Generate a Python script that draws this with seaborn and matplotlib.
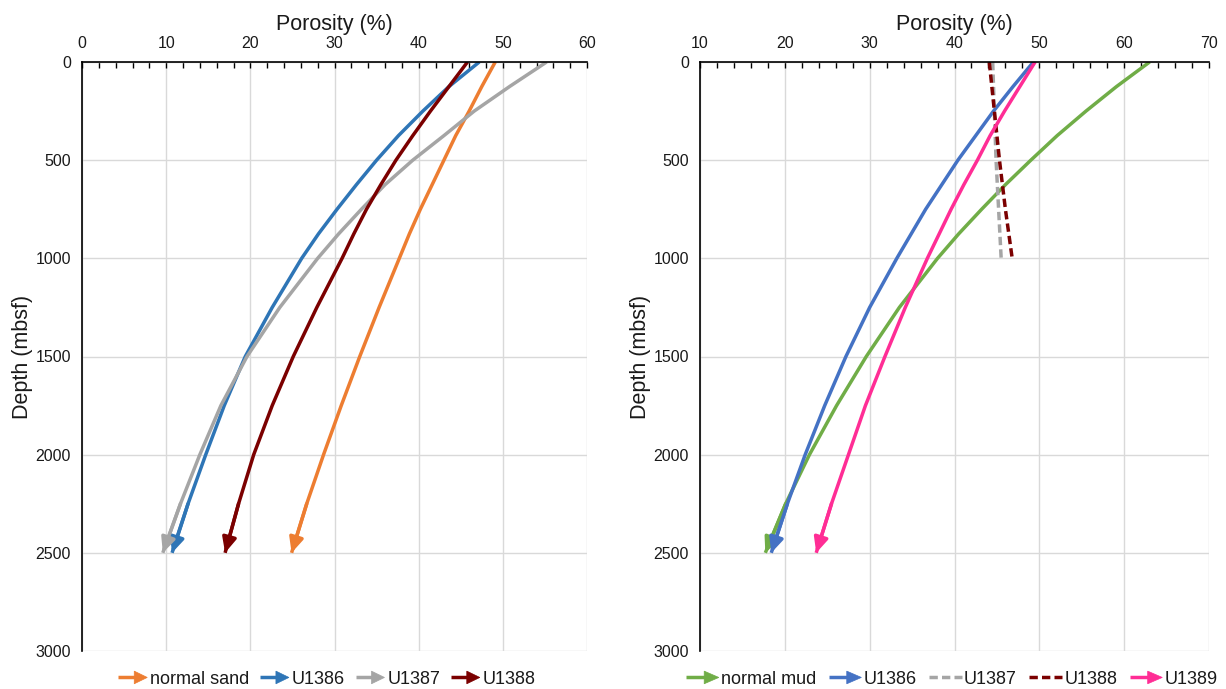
import matplotlib
matplotlib.use("Agg")
import matplotlib.pyplot as plt
import seaborn as sns
from matplotlib.lines import Line2D
from matplotlib.patches import Polygon
from matplotlib.legend_handler import HandlerBase
from matplotlib.ticker import MultipleLocator

depth = [0, 125, 250, 375, 500, 625, 750, 875, 1000, 1250, 1500, 1750, 2000, 2250, 2500]
depth_short = [0, 250, 500, 750, 1000]

# left panel - sand porosity (%)
sand_normal = [49.1, 47.5, 46.0, 44.4, 43.0, 41.6, 40.2, 38.9, 37.7, 35.3, 33.0, 30.8, 28.7, 26.7, 24.9]
sand_u1386 = [47.2, 43.6, 40.5, 37.6, 35.0, 32.6, 30.3, 28.1, 26.1, 22.6, 19.4, 16.9, 14.7, 12.6, 10.7]
sand_u1387 = [55.2, 50.8, 46.6, 43.0, 39.3, 36.0, 33.2, 30.5, 28.0, 23.5, 19.6, 16.5, 14.0, 11.7, 9.6]
sand_u1388 = [45.8, 43.6, 41.4, 39.3, 37.3, 35.5, 33.8, 32.3, 30.9, 27.9, 25.1, 22.6, 20.4, 18.6, 17.0]

# right panel - mud porosity (%)
mud_normal = [63.0, 59.1, 55.5, 52.1, 49.0, 46.0, 43.2, 40.5, 38.0, 33.5, 29.6, 26.1, 22.9, 20.1, 17.7]
mud_u1386 = [49.3, 46.9, 44.6, 42.5, 40.4, 38.5, 36.6, 34.9, 33.2, 30.0, 27.2, 24.7, 22.4, 20.3, 18.4]
mud_u1387 = [44.5, 44.7, 44.9, 45.2, 45.5]
mud_u1388 = [44.1, 44.7, 45.3, 46.0, 46.8]
mud_u1389 = [49.5, 47.7, 45.9, 44.2, 42.7, 41.1, 39.6, 38.2, 36.8, 34.2, 31.8, 29.5, 27.5, 25.5, 23.7]

sand_labels = ["normal sand", "U1386", "U1387", "U1388"]
mud_labels = ["normal mud", "U1386", "U1387", "U1388", "U1389"]

LW = 2.5
DASH = (0, (2.4, 1.2))
TXT = "#1a1a1a"


class ArrowHandler(HandlerBase):
    # legend key: line with a triangle head, or plain dashed line
    def create_artists(self, legend, orig, xd, yd, width, height, fontsize, trans):
        y = height / 2 - yd
        x0, x1 = -xd, -xd + width
        color = orig.get_color()
        if orig.get_linestyle() in ("-", "solid"):
            head = 0.45 * width
            line = Line2D([x0, x1 - head * 0.7], [y, y], color=color, lw=LW,
                          solid_capstyle="butt", transform=trans)
            tri = Polygon([[x1 - head, y + height * 0.5], [x1, y],
                           [x1 - head, y - height * 0.5]], closed=True,
                          fc=color, ec=color, lw=0.5, transform=trans)
            return [line, tri]
        line = Line2D([x0, x1], [y, y], color=color, lw=LW, linestyle=DASH,
                      transform=trans)
        return [line]


def draw_curve(ax, x, y, color, dashed=False):
    sns.lineplot(x=x, y=y, ax=ax, color=color, lw=LW, sort=False,
                 estimator=None, legend=False,
                 linestyle=DASH if dashed else "-", solid_capstyle="butt")
    if not dashed:
        ax.annotate("", xy=(x[-1], y[-1]), xytext=(x[-2], y[-2]),
                    arrowprops=dict(arrowstyle="-|>,head_length=0.9,head_width=0.42",
                                    color=color, lw=LW, shrinkA=0, shrinkB=0))


def style_axes(ax, xmin, xmax):
    ax.set_xlim(xmin, xmax)
    ax.set_ylim(3000, 0)
    ax.xaxis.set_major_locator(MultipleLocator(10))
    ax.xaxis.set_minor_locator(MultipleLocator(2))
    ax.yaxis.set_major_locator(MultipleLocator(500))
    ax.yaxis.set_minor_locator(MultipleLocator(100))
    ax.xaxis.tick_top()
    ax.xaxis.set_label_position("top")
    ax.tick_params(axis="both", which="both", direction="in", length=4,
                   width=1, color="black", labelsize=11.5, labelcolor=TXT, pad=8)
    ax.tick_params(axis="x", which="both", top=True, bottom=False,
                   labeltop=True, labelbottom=False)
    ax.grid(True, which="major", color="#d9d9d9", lw=1)
    ax.set_axisbelow(True)
    for side in ["right", "bottom"]:
        ax.spines[side].set_visible(False)
    for side in ["top", "left"]:
        ax.spines[side].set_color("black")
        ax.spines[side].set_linewidth(1.2)
    ax.set_xlabel("Porosity (%)", fontsize=15.5, color=TXT, labelpad=4)
    ax.set_ylabel("Depth (mbsf)", fontsize=15.5, color=TXT, labelpad=2)


sns.set_style("white")
plt.rcParams["font.family"] = ["Liberation Sans", "DejaVu Sans"]

fig = plt.figure(figsize=(12.26, 6.89), dpi=100)
ax1 = fig.add_axes([82 / 1226, 1 - 651 / 689, 505 / 1226, 589 / 689])
ax2 = fig.add_axes([700 / 1226, 1 - 651 / 689, 509 / 1226, 589 / 689])

# left panel: sand
sand_series = [sand_normal, sand_u1386, sand_u1387, sand_u1388]
sand_colors = ["#ed7d31", "#2e75b6", "#a5a5a5", "#7b0000"]
for vals, c in zip(sand_series, sand_colors):
    draw_curve(ax1, vals, depth, c)
style_axes(ax1, 0, 60)

# right panel: mud
mud_colors = ["#70ad47", "#4472c4", "#a5a5a5", "#7b0000", "#ff2d95"]
draw_curve(ax2, mud_normal, depth, mud_colors[0])
draw_curve(ax2, mud_u1386, depth, mud_colors[1])
draw_curve(ax2, mud_u1387, depth_short, mud_colors[2], dashed=True)
draw_curve(ax2, mud_u1388, depth_short, mud_colors[3], dashed=True)
draw_curve(ax2, mud_u1389, depth, mud_colors[4])
style_axes(ax2, 10, 70)

# legends below each panel
sand_handles = [Line2D([], [], color=c, lw=LW) for c in sand_colors]
mud_styles = ["-", "-", "--", "--", "-"]
mud_handles = [Line2D([], [], color=c, lw=LW, linestyle=s)
               for c, s in zip(mud_colors, mud_styles)]

ax1.legend(sand_handles, sand_labels, handler_map={Line2D: ArrowHandler()},
           loc="center", bbox_to_anchor=(0.485, -0.048), ncol=4, frameon=False,
           fontsize=13, handlelength=1.6, handletextpad=0.15,
           columnspacing=0.6, labelcolor=TXT)
ax2.legend(mud_handles, mud_labels, handler_map={Line2D: ArrowHandler()},
           loc="center", bbox_to_anchor=(0.495, -0.048), ncol=5, frameon=False,
           fontsize=13, handlelength=1.8, handletextpad=0.12,
           columnspacing=0.7, labelcolor=TXT)

fig.savefig("out.png", dpi=100)
